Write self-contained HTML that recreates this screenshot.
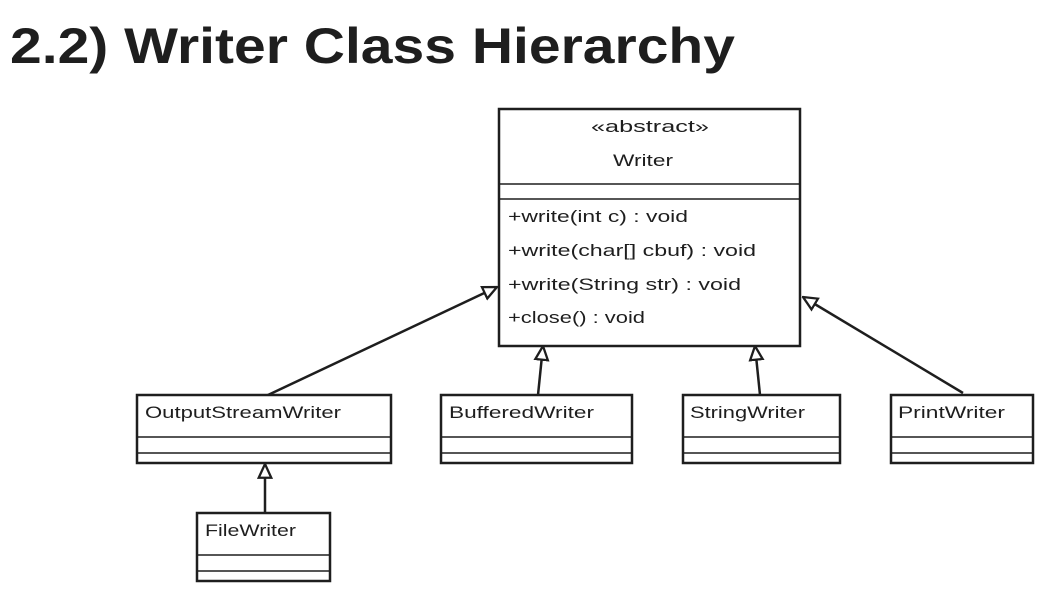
<!DOCTYPE html>
<html><head><meta charset="utf-8"><style>
html,body{margin:0;padding:0;background:#fff;}
svg{display:block;}
text{font-family:"Comic Sans MS","Liberation Sans",sans-serif;fill:#1e1e1e;}
</style></head><body>
<svg width="1047" height="592" viewBox="0 0 1047 592" xmlns="http://www.w3.org/2000/svg">
<defs>
<marker id="tri" viewBox="0 0 14 14" refX="13" refY="7" markerWidth="16" markerHeight="16" markerUnits="userSpaceOnUse" orient="auto">
<path d="M1,1.5 L13,7 L1,12.5 Z" fill="#fff" stroke="#1e1e1e" stroke-width="2"/>
</marker>
</defs>
<text x="10" y="63" font-size="50" font-weight="bold" textLength="725" lengthAdjust="spacingAndGlyphs">2.2) Writer Class Hierarchy</text>

<g fill="none" stroke="#1e1e1e" stroke-width="2.5">
<rect x="499" y="109" width="301" height="237"/>
<line x1="499" y1="184" x2="800" y2="184" stroke-width="1.5"/>
<line x1="499" y1="199" x2="800" y2="199" stroke-width="1.5"/>

<rect x="137" y="395" width="254" height="68"/>
<line x1="137" y1="437" x2="391" y2="437" stroke-width="1.5"/>
<line x1="137" y1="453" x2="391" y2="453" stroke-width="1.5"/>

<rect x="441" y="395" width="191" height="68"/>
<line x1="441" y1="437" x2="632" y2="437" stroke-width="1.5"/>
<line x1="441" y1="453" x2="632" y2="453" stroke-width="1.5"/>

<rect x="683" y="395" width="157" height="68"/>
<line x1="683" y1="437" x2="840" y2="437" stroke-width="1.5"/>
<line x1="683" y1="453" x2="840" y2="453" stroke-width="1.5"/>

<rect x="891" y="395" width="142" height="68"/>
<line x1="891" y1="437" x2="1033" y2="437" stroke-width="1.5"/>
<line x1="891" y1="453" x2="1033" y2="453" stroke-width="1.5"/>

<rect x="197" y="513" width="133" height="68"/>
<line x1="197" y1="555" x2="330" y2="555" stroke-width="1.5"/>
<line x1="197" y1="571" x2="330" y2="571" stroke-width="1.5"/>

<line x1="268" y1="395" x2="497" y2="287" stroke-width="2.5" marker-end="url(#tri)"/>
<line x1="538" y1="395" x2="543" y2="346" stroke-width="2.5" marker-end="url(#tri)"/>
<line x1="760" y1="395" x2="755" y2="346" stroke-width="2.5" marker-end="url(#tri)"/>
<line x1="963" y1="393" x2="803" y2="297" stroke-width="2.5" marker-end="url(#tri)"/>
<line x1="265" y1="513" x2="265" y2="464" stroke-width="2.5" marker-end="url(#tri)"/>
</g>

<g font-size="17">
<text x="591" y="132" textLength="118" lengthAdjust="spacingAndGlyphs">«abstract»</text>
<text x="613" y="166" textLength="60" lengthAdjust="spacingAndGlyphs">Writer</text>
<text x="508" y="222" textLength="180" lengthAdjust="spacingAndGlyphs">+write(int c) : void</text>
<text x="508" y="256" textLength="248" lengthAdjust="spacingAndGlyphs">+write(char[] cbuf) : void</text>
<text x="508" y="290" textLength="233" lengthAdjust="spacingAndGlyphs">+write(String str) : void</text>
<text x="508" y="323" textLength="137" lengthAdjust="spacingAndGlyphs">+close() : void</text>
<text x="145" y="418" textLength="196" lengthAdjust="spacingAndGlyphs">OutputStreamWriter</text>
<text x="449" y="418" textLength="145" lengthAdjust="spacingAndGlyphs">BufferedWriter</text>
<text x="690" y="418" textLength="115" lengthAdjust="spacingAndGlyphs">StringWriter</text>
<text x="898" y="418" textLength="107" lengthAdjust="spacingAndGlyphs">PrintWriter</text>
<text x="205" y="536" textLength="91" lengthAdjust="spacingAndGlyphs">FileWriter</text>
</g>
</svg>
</body></html>
